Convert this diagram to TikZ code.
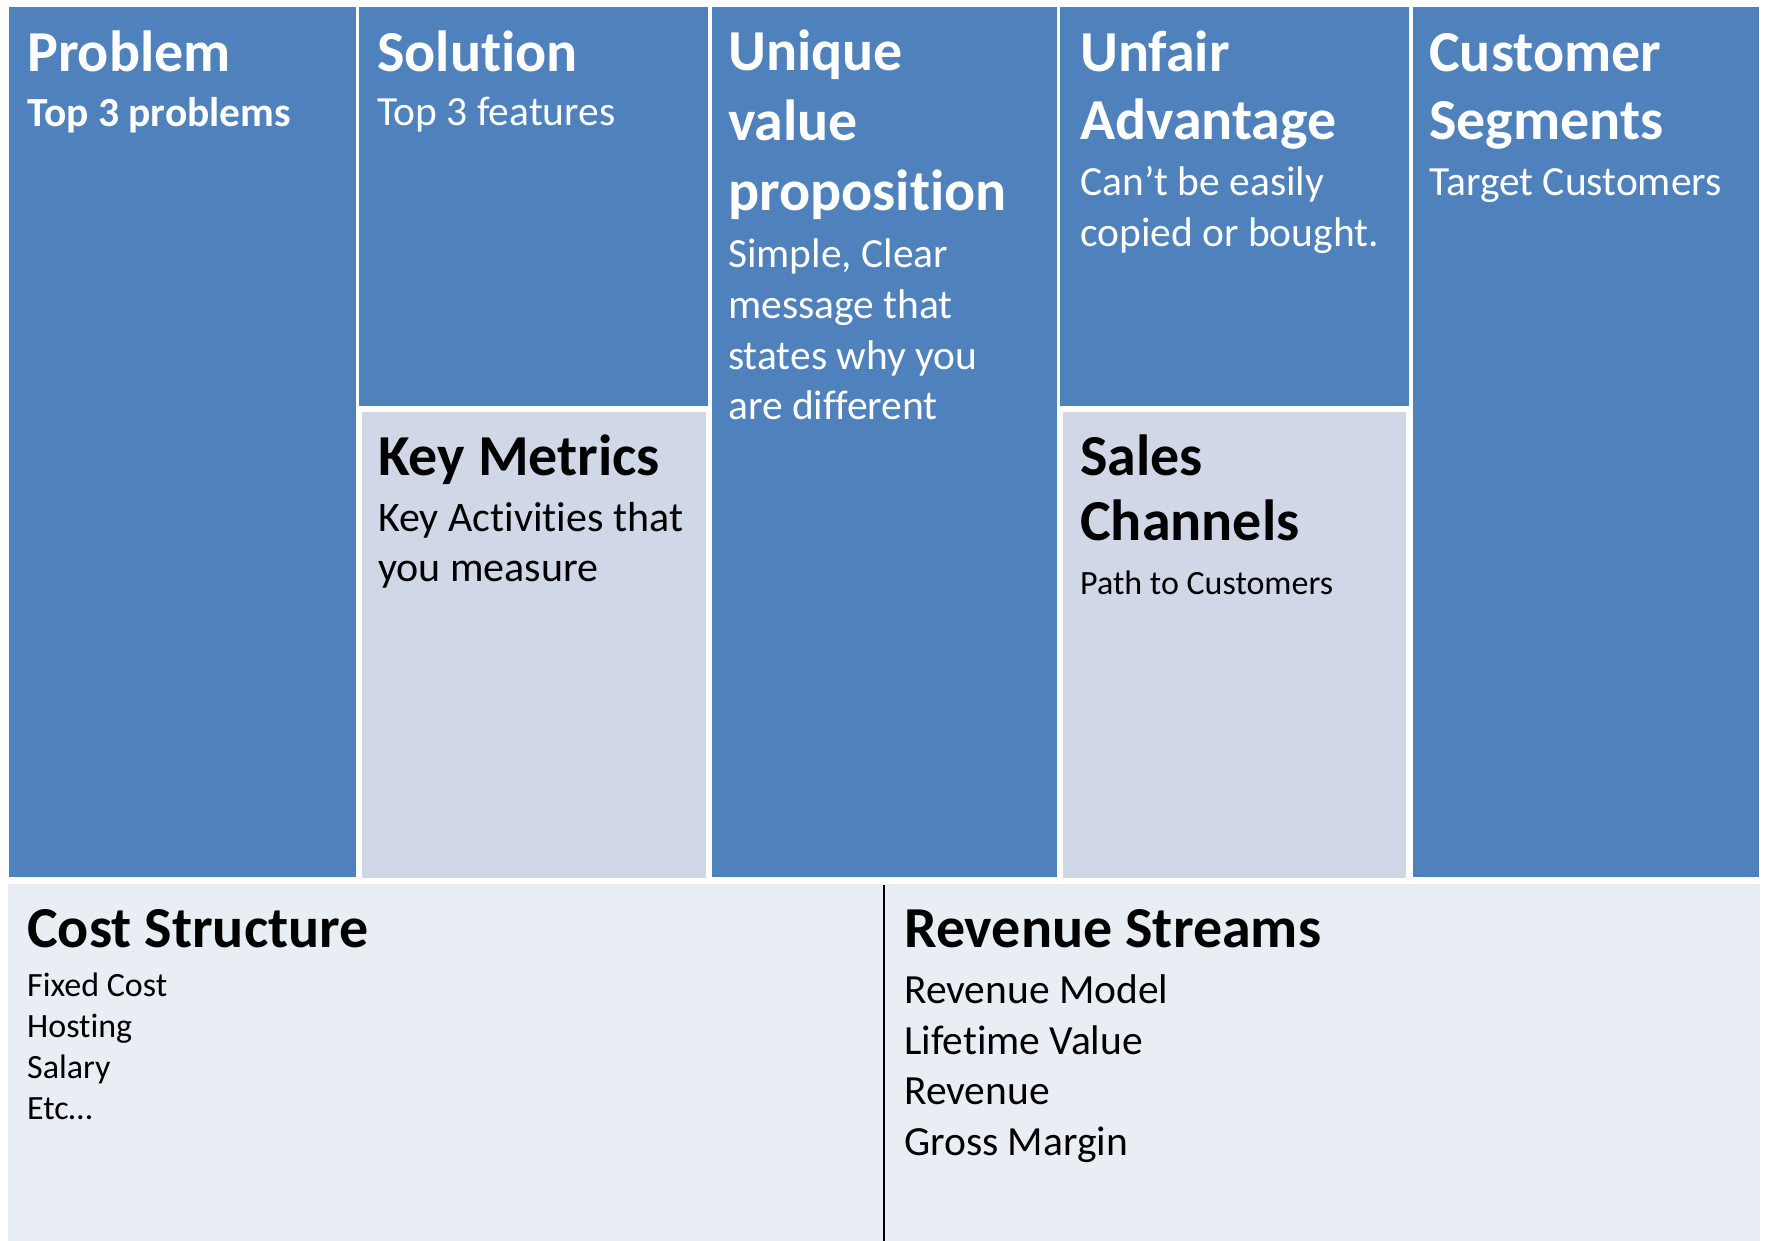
\documentclass[tikz,border=0pt]{standalone}
\usepackage{fontspec}
\setmainfont{Carlito}[Ligatures=NoCommon]
\definecolor{cellblue}{HTML}{4F81BD}
\definecolor{celllight}{HTML}{D0D8E8}
\definecolor{footlight}{HTML}{E9EDF4}
\tikzset{
  bluecell/.style={fill=cellblue, draw=white, line width=2pt},
  lightcell/.style={fill=celllight, draw=white, line width=6pt},
  headtext/.style={anchor=base west, inner sep=0pt, font=\fontsize{58}{70}\selectfont\bfseries},
  bodytext/.style={anchor=base west, inner sep=0pt, font=\fontsize{41.5}{51}\selectfont},
  smalltext/.style={anchor=base west, inner sep=0pt, font=\fontsize{34}{41}\selectfont}
}
\begin{document}
\begin{tikzpicture}
    \useasboundingbox[fill=white] (0pt,0pt) rectangle (1766pt,-1241pt);
    % top row of columns
    \draw[bluecell] (8pt,-6pt) rectangle (357pt,-878pt);
    \draw[bluecell] (358pt,-6pt) rectangle (709pt,-878pt);
    \draw[bluecell] (711pt,-6pt) rectangle (1058pt,-878pt);
    \draw[bluecell] (1059pt,-6pt) rectangle (1410pt,-878pt);
    \draw[bluecell] (1412pt,-6pt) rectangle (1760pt,-878pt);
    % lower halves of columns 2 and 4
    \draw[lightcell] (359pt,-409pt) rectangle (708.5pt,-881pt);
    \draw[lightcell] (1060pt,-409pt) rectangle (1409pt,-881pt);
    % bottom row
    \fill[footlight] (8pt,-884pt) rectangle (1760pt,-1241pt);
    \coordinate (splittop) at (884pt,-885pt);
    \coordinate (splitbot) at (884pt,-1241pt);
    \draw[line width=2.5pt] (splittop) -- (splitbot);

    \node[headtext, text=white] (problem) at (27pt,-72pt) {Problem};
    \node[bodytext, text=white, font=\fontsize{41.5}{51}\selectfont\bfseries] (problemsub) at (27pt,-127pt) {Top 3 problems};

    \node[headtext, text=white] (solution) at (377pt,-72pt) {Solution};
    \node[bodytext, text=white] (solutionsub) at (377pt,-126pt) {Top 3 features};

    \node[headtext, text=white] (uvpa) at (728pt,-71pt) {Unique};
    \node[headtext, text=white] (uvpb) at (728pt,-141pt) {value};
    \node[headtext, text=white] (uvpc) at (728pt,-211pt) {proposition};
    \node[bodytext, text=white] (uvpsuba) at (728pt,-268pt) {Simple, Clear};
    \node[bodytext, text=white] (uvpsubb) at (728pt,-318.5pt) {message that};
    \node[bodytext, text=white] (uvpsubc) at (728pt,-369pt) {states why you};
    \node[bodytext, text=white] (uvpsubd) at (728pt,-419.5pt) {are different};

    \node[headtext, text=white] (unfaira) at (1080pt,-72pt) {Unfair};
    \node[headtext, text=white] (unfairb) at (1080pt,-140pt) {Advantage};
    \node[bodytext, text=white] (unfairsuba) at (1080pt,-196pt) {Can’t be easily};
    \node[bodytext, text=white] (unfairsubb) at (1080pt,-247pt) {copied or bought.};

    \node[headtext, text=white] (customera) at (1429pt,-72pt) {Customer};
    \node[headtext, text=white] (customerb) at (1429pt,-140pt) {Segments};
    \node[bodytext, text=white] (customersub) at (1429pt,-196pt) {Target Customers};

    \node[headtext] (metrics) at (378pt,-475pt) {Key Metrics};
    \node[bodytext, font=\fontsize{42}{51}\selectfont] (metricssuba) at (378pt,-531pt) {Key Activities that};
    \node[bodytext, font=\fontsize{42}{51}\selectfont] (metricssubb) at (378pt,-581pt) {you measure};

    \node[headtext] (channelsa) at (1080pt,-475pt) {Sales};
    \node[headtext] (channelsb) at (1080pt,-540pt) {Channels};
    \node[smalltext] (channelssub) at (1080pt,-594pt) {Path to Customers};

    \node[headtext] (cost) at (27pt,-947pt) {Cost Structure};
    \node[smalltext] (costa) at (27pt,-996pt) {Fixed Cost};
    \node[smalltext] (costb) at (27pt,-1037pt) {Hosting};
    \node[smalltext] (costc) at (27pt,-1078pt) {Salary};
    \node[smalltext] (costd) at (27pt,-1119pt) {Etc…};

    \node[headtext] (revenue) at (904pt,-947pt) {Revenue Streams};
    \node[bodytext] (revenuea) at (904pt,-1003pt) {Revenue Model};
    \node[bodytext] (revenueb) at (904pt,-1054pt) {Lifetime Value};
    \node[bodytext] (revenuec) at (904pt,-1104pt) {Revenue};
    \node[bodytext] (revenued) at (904pt,-1155pt) {Gross Margin};
\end{tikzpicture}
\end{document}
